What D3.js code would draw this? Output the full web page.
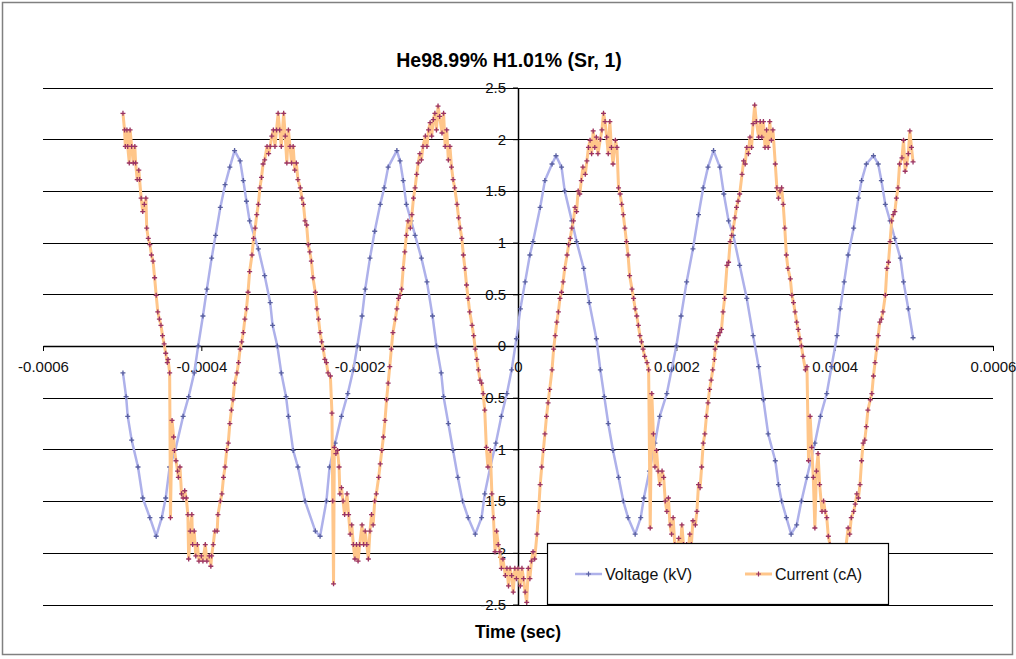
<!DOCTYPE html>
<html>
<head>
<meta charset="utf-8">
<script src="https://cdn.jsdelivr.net/npm/d3@7"></script>
<style>
    body { margin: 0; background: #fff; }
    svg { display: block; font-family: "Liberation Sans", Arial, sans-serif; }
</style>
</head>
<body>
<svg id="chart" width="1016" height="659"></svg>
<script>
/**
 * Data.
 */
const chartTitle = 'He98.99% H1.01% (Sr, 1)',
    xTitle = 'Time (sec)',
    seriesNames = ['Voltage (kV)', 'Current (cA)'];

const xTicks = [-0.0006, -0.0004, -0.0002, 0, 0.0002, 0.0004, 0.0006],
    yTicks = [-2.5, -2, -1.5, -1, -0.5, 0, 0.5, 1, 1.5, 2, 2.5];

// [time (µs), kV]
const voltage = [
    [-499, -0.26], [-495, -0.49], [-493, -0.68], [-488, -0.91], [-480, -1.17], [-474, -1.47], [-465, -1.66], [-457, -1.84],
    [-450, -1.66], [-445, -1.47], [-440, -1.17], [-433, -1.01], [-423, -0.68], [-416, -0.49], [-409, -0.26], [-404, 0.00],
    [-398, 0.29], [-393, 0.55], [-387, 0.85], [-382, 1.07], [-376, 1.34], [-370, 1.56], [-364, 1.73], [-358, 1.89],
    [-351, 1.79], [-347, 1.60], [-343, 1.40], [-339, 1.21], [-328, 0.94], [-320, 0.68], [-313, 0.42], [-310, 0.20],
    [-304, 0.00], [-299, -0.26], [-293, -0.49], [-290, -0.68], [-284, -1.01], [-278, -1.17], [-269, -1.50], [-256, -1.79],
    [-250, -1.84], [-242, -1.50], [-238, -1.17], [-231, -0.94], [-223, -0.68], [-215, -0.46], [-208, -0.23], [-203, 0.00],
    [-197, 0.29], [-193, 0.55], [-187, 0.85], [-181, 1.11], [-174, 1.37], [-169, 1.53], [-164, 1.73], [-153, 1.89],
    [-149, 1.79], [-145, 1.60], [-141, 1.37], [-135, 1.21], [-130, 1.07], [-122, 0.85], [-115, 0.62], [-108, 0.29],
    [-103, 0.00], [-97, -0.26], [-94, -0.49], [-88, -0.75], [-82, -1.01], [-76, -1.27], [-70, -1.50], [-63, -1.66],
    [-54, -1.82], [-46, -1.66], [-42, -1.43], [-35, -1.17], [-28, -0.94], [-21, -0.68], [-14, -0.46], [-8, -0.23],
    [-2, 0.07], [3, 0.36], [9, 0.62], [15, 0.88], [19, 1.01], [28, 1.34], [34, 1.60], [43, 1.76],
    [48, 1.84], [55, 1.73], [59, 1.50], [68, 1.21], [74, 1.01], [83, 0.75], [90, 0.42], [99, 0.07],
    [104, -0.23], [109, -0.49], [114, -0.75], [120, -1.01], [127, -1.27], [133, -1.50], [139, -1.66], [148, -1.82],
    [155, -1.66], [159, -1.47], [166, -1.21], [173, -0.94], [179, -0.68], [188, -0.46], [194, -0.23], [200, 0.00],
    [206, 0.29], [213, 0.62], [221, 0.94], [228, 1.27], [234, 1.53], [240, 1.73], [247, 1.89], [255, 1.73],
    [260, 1.47], [266, 1.21], [272, 1.07], [280, 0.78], [289, 0.46], [297, 0.10], [304, -0.20], [310, -0.52],
    [316, -0.85], [325, -1.11], [329, -1.34], [333, -1.50], [339, -1.66], [345, -1.82], [352, -1.73], [358, -1.50],
    [365, -1.27], [375, -0.94], [382, -0.68], [390, -0.46], [396, -0.20], [403, 0.10], [407, 0.36], [412, 0.62],
    [417, 0.88], [424, 1.14], [430, 1.43], [434, 1.60], [440, 1.76], [449, 1.84], [455, 1.76], [459, 1.60],
    [464, 1.37], [470, 1.21], [476, 1.04], [483, 0.85], [487, 0.62], [493, 0.36], [499, 0.08]
];

// [time (µs), cA]
const current = [
    [-499, 2.25], [-497, 2.09], [-496, 1.93], [-494, 2.09], [-493, 1.93], [-491, 1.77], [-490, 2.09], [-488, 1.93],
    [-486, 1.77], [-484, 1.93], [-483, 1.77], [-481, 1.61], [-479, 1.70], [-478, 1.61], [-476, 1.43], [-474, 1.30],
    [-472, 1.37], [-470, 1.43], [-469, 1.14], [-467, 1.04], [-465, 0.98], [-463, 0.88], [-461, 0.82], [-459, 0.66],
    [-457, 0.49], [-455, 0.33], [-453, 0.26], [-451, 0.20], [-449, 0.10], [-447, 0.02], [-445, -0.07], [-443, -0.16],
    [-442, -0.13], [-440, -0.26], [-439, -1.66], [-437, -0.72], [-435, -0.88], [-434, -1.01], [-432, -1.11], [-430, -1.21],
    [-429, -1.27], [-427, -1.17], [-425, -1.43], [-423, -1.47], [-421, -1.40], [-419, -1.47], [-417, -1.63], [-416, -2.06],
    [-414, -1.79], [-412, -1.63], [-411, -1.92], [-409, -1.79], [-407, -2.03], [-405, -1.92], [-403, -2.08], [-400, -2.03],
    [-398, -2.08], [-395, -1.92], [-393, -2.08], [-390, -2.03], [-388, -2.13], [-387, -2.03], [-385, -1.92], [-383, -1.79],
    [-380, -1.79], [-379, -1.63], [-376, -1.50], [-374, -1.43], [-372, -1.27], [-370, -1.17], [-368, -1.01], [-366, -0.94],
    [-364, -0.75], [-362, -0.62], [-360, -0.52], [-358, -0.36], [-355, -0.26], [-353, -0.16], [-351, -0.03], [-349, 0.04],
    [-347, 0.13], [-345, 0.26], [-343, 0.36], [-341, 0.52], [-339, 0.72], [-336, 0.88], [-334, 1.04], [-332, 1.14],
    [-330, 1.27], [-328, 1.37], [-326, 1.53], [-324, 1.63], [-322, 1.76], [-320, 1.80], [-317, 1.93], [-315, 1.86],
    [-313, 1.93], [-311, 2.03], [-309, 2.09], [-307, 1.93], [-305, 2.09], [-303, 2.25], [-301, 2.09], [-299, 1.93],
    [-296, 2.25], [-294, 2.03], [-292, 1.77], [-290, 2.09], [-288, 1.93], [-286, 1.77], [-284, 1.93], [-282, 1.70],
    [-280, 1.77], [-278, 1.61], [-275, 1.53], [-273, 1.43], [-271, 1.37], [-269, 1.21], [-267, 1.17], [-265, 0.98],
    [-263, 0.91], [-261, 0.82], [-259, 0.66], [-256, 0.52], [-254, 0.36], [-252, 0.26], [-250, 0.13], [-248, 0.04],
    [-246, -0.03], [-244, -0.13], [-242, -0.16], [-240, -0.26], [-237, -0.29], [-235, -0.65], [-234, -1.50], [-233, -2.30],
    [-232, -0.98], [-230, -1.04], [-228, -1.01], [-226, -1.17], [-225, -1.43], [-223, -1.37], [-221, -1.50], [-219, -1.63],
    [-216, -1.43], [-214, -1.63], [-212, -1.82], [-210, -1.73], [-208, -1.92], [-206, -2.06], [-204, -1.92], [-202, -2.08],
    [-200, -1.92], [-197, -1.73], [-195, -1.92], [-193, -1.79], [-191, -1.92], [-189, -2.06], [-187, -1.79], [-185, -1.63],
    [-183, -1.73], [-181, -1.50], [-179, -1.43], [-176, -1.27], [-174, -1.14], [-172, -1.01], [-170, -0.88], [-168, -0.72],
    [-166, -0.52], [-164, -0.36], [-162, -0.20], [-160, -0.03], [-158, 0.13], [-155, 0.26], [-153, 0.36], [-151, 0.46],
    [-149, 0.49], [-147, 0.55], [-145, 0.75], [-143, 0.91], [-141, 1.07], [-139, 1.21], [-136, 1.14], [-134, 1.27],
    [-132, 1.43], [-130, 1.53], [-128, 1.66], [-126, 1.77], [-124, 1.86], [-122, 1.80], [-120, 1.93], [-117, 2.03],
    [-115, 1.93], [-113, 2.09], [-111, 2.16], [-109, 2.03], [-107, 2.19], [-105, 2.25], [-103, 2.09], [-101, 2.32],
    [-99, 2.22], [-96, 2.06], [-94, 2.25], [-92, 1.93], [-90, 2.09], [-88, 1.80], [-86, 1.93], [-84, 1.73],
    [-82, 1.61], [-80, 1.53], [-77, 1.37], [-75, 1.24], [-73, 1.14], [-71, 1.04], [-69, 0.88], [-67, 0.75],
    [-65, 0.59], [-63, 0.46], [-61, 0.33], [-58, 0.20], [-56, 0.10], [-54, -0.03], [-52, -0.13], [-50, -0.23],
    [-48, -0.33], [-46, -0.36], [-44, -0.46], [-42, -0.62], [-40, -0.98], [-38, -1.17], [-35, -1.01], [-33, -1.43],
    [-31, -1.66], [-29, -1.99], [-27, -1.79], [-25, -1.92], [-23, -1.99], [-21, -2.15], [-19, -2.06], [-16, -2.22],
    [-14, -2.15], [-12, -2.32], [-10, -2.15], [-8, -2.22], [-6, -2.38], [-4, -2.15], [-2, -2.25], [0, -2.15],
    [3, -2.32], [5, -2.15], [7, -2.25], [9, -2.38], [11, -2.48], [13, -2.15], [15, -2.25], [17, -2.08],
    [19, -1.99], [21, -2.06], [24, -1.82], [26, -1.60], [28, -1.34], [30, -1.17], [32, -1.01], [34, -0.85],
    [36, -0.68], [38, -0.55], [40, -0.42], [43, -0.23], [45, -0.03], [47, 0.10], [49, 0.23], [51, 0.33],
    [53, 0.46], [55, 0.52], [57, 0.62], [59, 0.75], [62, 0.88], [64, 0.98], [66, 1.04], [68, 1.14],
    [70, 1.21], [72, 1.34], [74, 1.30], [76, 1.50], [78, 1.47], [80, 1.60], [82, 1.73], [85, 1.66],
    [87, 1.79], [89, 1.92], [91, 1.99], [93, 1.86], [95, 2.08], [97, 1.92], [99, 2.02], [101, 1.86],
    [104, 2.00], [106, 2.09], [108, 2.25], [110, 2.17], [112, 2.02], [114, 1.86], [116, 2.17], [118, 1.92],
    [120, 1.76], [123, 1.99], [125, 1.92], [127, 1.53], [129, 1.47], [131, 1.37], [133, 1.27], [135, 1.14],
    [137, 1.01], [139, 0.88], [141, 0.68], [144, 0.55], [146, 0.46], [148, 0.36], [150, 0.29], [152, 0.20],
    [154, 0.10], [156, 0.04], [158, -0.03], [160, -0.10], [163, -0.16], [165, -0.23], [167, -1.76], [169, -0.46],
    [171, -0.85], [173, -1.17], [175, -1.01], [177, -1.21], [179, -1.34], [182, -1.21], [184, -1.27], [186, -1.50],
    [188, -1.60], [190, -1.47], [192, -1.73], [194, -1.82], [196, -1.66], [198, -1.92], [200, -1.99], [203, -1.86],
    [205, -1.99], [207, -1.73], [209, -1.92], [211, -2.02], [213, -1.92], [215, -1.99], [217, -1.82], [219, -1.92],
    [221, -1.69], [224, -1.73], [226, -1.60], [228, -1.34], [230, -1.37], [232, -1.17], [234, -0.94], [236, -0.85],
    [238, -0.68], [240, -0.55], [242, -0.42], [244, -0.33], [246, -0.23], [248, -0.13], [249, -0.03], [251, 0.04],
    [253, 0.10], [255, 0.13], [257, 0.16], [259, 0.33], [261, 0.46], [264, 0.78], [266, 0.81], [268, 1.01],
    [270, 1.07], [272, 1.14], [274, 1.24], [276, 1.34], [278, 1.40], [280, 1.47], [283, 1.66], [285, 1.79],
    [287, 1.76], [289, 1.92], [291, 1.86], [293, 2.02], [295, 1.92], [297, 2.15], [299, 2.33], [301, 2.17],
    [304, 2.02], [306, 2.17], [308, 2.02], [310, 2.17], [312, 1.92], [314, 2.09], [316, 1.92], [318, 2.17],
    [320, 1.99], [322, 2.09], [325, 1.76], [327, 1.53], [329, 1.43], [331, 1.50], [333, 1.53], [335, 1.37],
    [337, 1.14], [339, 0.88], [341, 0.75], [344, 0.65], [346, 0.49], [348, 0.42], [350, 0.33], [352, 0.23],
    [354, 0.16], [356, 0.07], [358, 0.00], [360, -0.10], [363, -0.23], [365, -0.20], [367, -1.11], [369, -0.68],
    [371, -0.98], [373, -1.27], [375, -1.76], [377, -1.21], [379, -1.04], [381, -1.34], [384, -1.60], [386, -1.50],
    [388, -1.60], [390, -1.66], [392, -1.84], [394, -1.92], [396, -2.02], [400, -1.99], [405, -2.05], [409, -1.95],
    [413, -2.02], [417, -1.76], [419, -1.82], [421, -1.66], [424, -1.60], [426, -1.53], [428, -1.43], [430, -1.47],
    [432, -1.34], [434, -1.11], [436, -0.94], [438, -0.91], [440, -0.78], [442, -0.62], [445, -0.52], [447, -0.46],
    [449, -0.29], [451, -0.16], [453, -0.03], [455, 0.10], [457, 0.23], [459, 0.26], [461, 0.33], [464, 0.49],
    [466, 0.75], [468, 0.81], [470, 1.01], [472, 1.21], [474, 1.27], [476, 1.30], [478, 1.43], [480, 1.53],
    [482, 1.76], [485, 1.82], [487, 1.99], [489, 1.69], [491, 1.76], [493, 1.86], [495, 2.08], [497, 1.92],
    [499, 1.78]
];

/**
 * Visual configs.
 */
const plot = { left: 43, right: 993, top: 87.5, bottom: 604.5 },
    styles = [
        { line: '#aeb1ea', lineWidth: 2.5, marker: '#5a60a0' },
        { line: '#ffc68a', lineWidth: 3, marker: '#993366' }
    ],
    markerPath = 'M-2.5,0H2.5M0,-2.5V2.5';

/**
 * D3.
 */
const svg = d3.select('#chart'),
    xScale = d3.scaleLinear().domain([-0.0006, 0.0006]).range([plot.left, plot.right]),
    yScale = d3.scaleLinear().domain([-2.5, 2.5]).range([plot.bottom, plot.top]),
    line = d3.line()
        .x(d => xScale(d[0] * 1e-6))
        .y(d => yScale(d[1]));

// Chart border
svg.append('rect')
    .attr('x', 2.5).attr('y', 2.5)
    .attr('width', 1010).attr('height', 652)
    .attr('fill', '#fff')
    .attr('stroke', '#808080')
    .attr('stroke-width', 1.5);

// Title
svg.append('text')
    .attr('x', 509).attr('y', 67)
    .attr('text-anchor', 'middle')
    .attr('font-weight', 'bold')
    .attr('font-size', 19.5)
    .text(chartTitle);

// Horizontal gridlines
svg.append('g').attr('class', 'grid')
    .selectAll('line')
    .data(yTicks)
    .join('line')
    .attr('x1', plot.left).attr('x2', plot.right)
    .attr('y1', d => Math.round(yScale(d)) + 0.5)
    .attr('y2', d => Math.round(yScale(d)) + 0.5)
    .attr('stroke', '#000')
    .attr('stroke-width', 1);

// Axes cross at zero
const xAxisContainer = svg.append('g')
    .attr('transform', 'translate(0,' + Math.round(yScale(0)) + ')')
    .call(d3.axisBottom(xScale).tickValues(xTicks).tickFormat(String)
        .tickSize(5).tickSizeOuter(0).tickPadding(10));

const yAxisContainer = svg.append('g')
    .attr('transform', 'translate(' + Math.round(xScale(0)) + ',0)')
    .call(d3.axisLeft(yScale).tickValues(yTicks).tickFormat(String)
        .tickSize(5).tickSizeOuter(0).tickPadding(7));

[xAxisContainer, yAxisContainer].forEach(g => {
    g.attr('font-family', null).attr('font-size', 15);
    g.select('.domain').attr('stroke', '#000').attr('stroke-width', 1.5);
    g.selectAll('.tick line').attr('stroke', '#000');
    g.selectAll('.tick text').attr('fill', '#111');
});

// Series: line then markers, voltage first so current sits on top
[voltage, current].forEach((data, i) => {
    const s = styles[i],
        container = svg.append('g').attr('class', 'series series-' + i);

    container.append('path')
        .datum(data)
        .attr('fill', 'none')
        .attr('stroke', s.line)
        .attr('stroke-width', s.lineWidth)
        .attr('stroke-linejoin', 'round')
        .attr('d', line);

    container.selectAll('.marker')
        .data(data)
        .join('path')
        .attr('class', 'marker')
        .attr('transform', d => 'translate(' + xScale(d[0] * 1e-6) + ',' + yScale(d[1]) + ')')
        .attr('d', markerPath)
        .attr('stroke', s.marker)
        .attr('stroke-width', 1.3);
});

// Legend box over the bottom of the plot
const legend = svg.append('g').attr('class', 'legend');
legend.append('rect')
    .attr('x', 547.5).attr('y', 543.5)
    .attr('width', 341).attr('height', 61)
    .attr('fill', '#fff')
    .attr('stroke', '#000')
    .attr('stroke-width', 1.2);

const legendX = [575, 745];
seriesNames.forEach((name, i) => {
    const s = styles[i],
        item = legend.append('g').attr('transform', 'translate(' + legendX[i] + ',574)');
    item.append('line')
        .attr('x1', 0).attr('x2', 27)
        .attr('stroke', s.line)
        .attr('stroke-width', s.lineWidth);
    item.append('path')
        .attr('transform', 'translate(13.5,0)')
        .attr('d', markerPath)
        .attr('stroke', s.marker)
        .attr('stroke-width', 1.2);
    item.append('text')
        .attr('x', 30).attr('y', 5.5)
        .attr('font-size', 16)
        .attr('fill', '#111')
        .text(name);
});

// X axis title
svg.append('text')
    .attr('x', 518).attr('y', 638)
    .attr('text-anchor', 'middle')
    .attr('font-weight', 'bold')
    .attr('font-size', 17.5)
    .text(xTitle);
</script>
</body>
</html>
